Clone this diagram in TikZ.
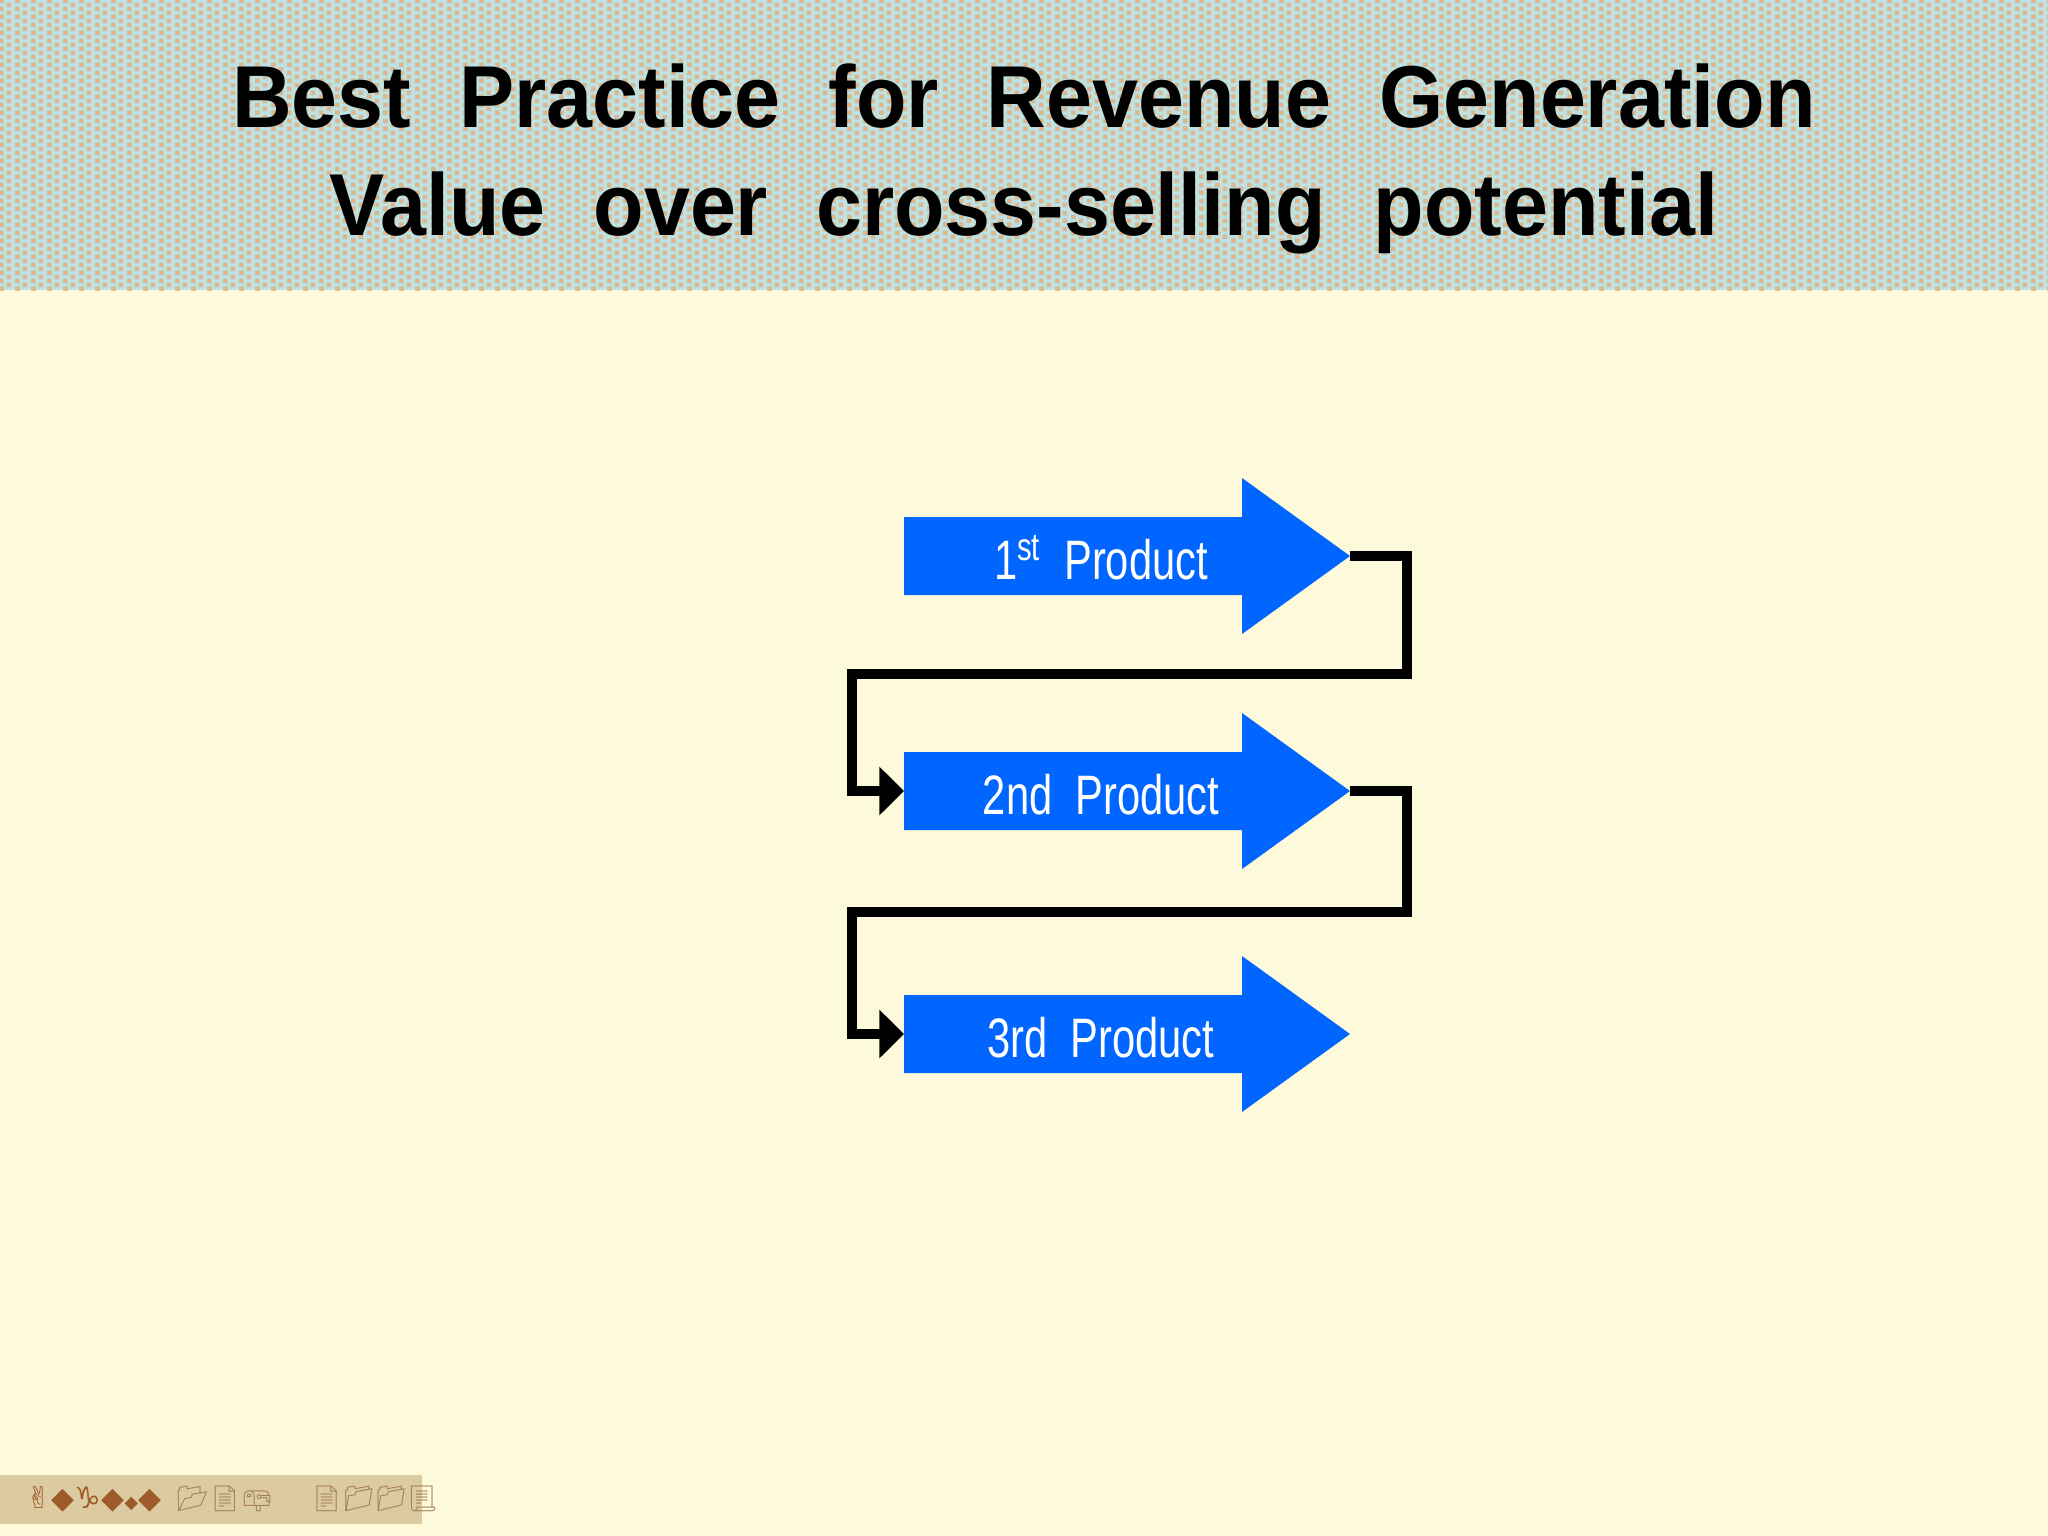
\documentclass[tikz,border=0pt]{standalone}
\usepackage{fontspec}
\setmainfont{Liberation Sans}
\newfontfamily\symfont{DejaVu Sans}
\newfontfamily\emojifont{Noto Emoji}
\usetikzlibrary{arrows.meta,patterns}
\definecolor{bandblue}{RGB}{190,226,226}
\definecolor{bandtan}{RGB}{220,182,142}
\definecolor{paper}{RGB}{252,250,218}
\definecolor{prodblue}{RGB}{0,102,255}
\definecolor{stripbg}{RGB}{220,202,160}
\definecolor{stripbrown}{RGB}{158,90,40}
\definecolor{iconbrown}{RGB}{165,125,90}
\newcommand{\titlefont}{\fontsize{25}{30}\selectfont\bfseries\spaceskip=0.58em\relax}
\pgfdeclarepatternformonly{tanspeckle}{\pgfqpoint{0pt}{0pt}}{\pgfqpoint{4.6pt}{4.6pt}}{\pgfqpoint{4.6pt}{4.6pt}}{%
  \pgfpathrectangle{\pgfqpoint{0pt}{0pt}}{\pgfqpoint{1.35pt}{1.35pt}}%
  \pgfpathrectangle{\pgfqpoint{2.3pt}{1.15pt}}{\pgfqpoint{1.35pt}{1.35pt}}%
  \pgfpathrectangle{\pgfqpoint{0pt}{2.3pt}}{\pgfqpoint{1.35pt}{1.35pt}}%
  \pgfpathrectangle{\pgfqpoint{2.3pt}{3.45pt}}{\pgfqpoint{1.35pt}{1.35pt}}%
  \pgfusepath{fill}}
\begin{document}
\begin{tikzpicture}[x=0.01cm, y=0.01cm]
    \tikzstyle{every node}+=[inner sep=0pt]
    \tikzstyle{prod}=[fill=prodblue]
    \tikzstyle{prodtext}=[text=white, anchor=base, font=\fontsize{15.8}{18}\selectfont]
    \tikzstyle{title}=[anchor=base, font=\titlefont]
    \tikzstyle{link}=[black, line width=2.6pt, -{Triangle[length=7pt,width=13.4pt]}]
    % page and title band
    \fill [paper] (0,0) rectangle (2048,-1536);
    \fill [bandblue] (0,0) rectangle (2048,-290);
    \fill [pattern=tanspeckle, pattern color=bandtan] (0,0) rectangle (2048,-290);
    \node [title] (t1) at (1024,-127) {\scalebox{0.94}[1]{Best Practice for Revenue Generation}};
    \node [title] (t2) at (1024,-235) {\scalebox{0.94}[1]{Value over cross-selling potential}};
    % product arrows
    \fill [prod] (904,-517) -- (1242,-517) -- (1242,-478) -- (1350,-556) -- (1242,-634) -- (1242,-595) -- (904,-595) -- cycle;
    \coordinate (tip1) at (1350,-556);
    \node [prodtext] (p1) at (1101,-579) {\scalebox{0.75}[1]{1\textsuperscript{st}\hspace{.55em}Product}};
    \fill [prod] (904,-752) -- (1242,-752) -- (1242,-713) -- (1350,-791) -- (1242,-869) -- (1242,-830) -- (904,-830) -- cycle;
    \coordinate (tail2) at (904,-791);
    \coordinate (tip2) at (1350,-791);
    \node [prodtext] (p2) at (1101,-814) {\scalebox{0.75}[1]{2nd\hspace{.55em}Product}};
    \fill [prod] (904,-995) -- (1242,-995) -- (1242,-956) -- (1350,-1034) -- (1242,-1112) -- (1242,-1073) -- (904,-1073) -- cycle;
    \coordinate (tail3) at (904,-1034);
    \node [prodtext] (p3) at (1101,-1057) {\scalebox{0.75}[1]{3rd\hspace{.55em}Product}};
    % connectors
    \draw [link] (tip1) -- ++(57,0) |- (852,-674) |- (tail2);
    \draw [link] (tip2) -- ++(57,0) |- (852,-912) |- (tail3);
    % footer strip
    \fill [stripbg] (0,-1475) rectangle (422,-1524);
    \node [anchor=west, text=stripbrown, font=\symfont\fontsize{8.5}{9}\selectfont] (s1) at (26,-1499) {✌◆♑◆{\fontsize{5}{5}\selectfont◆}◆};
    \node [anchor=west, text=iconbrown, font=\emojifont\fontsize{7.2}{8}\selectfont] (s2) at (176,-1499) {📂📄📪};
    \node [anchor=west, text=iconbrown, font=\emojifont\fontsize{7.2}{8}\selectfont] (s3) at (310,-1499) {📄📁📁📃};
\end{tikzpicture}
\end{document}
